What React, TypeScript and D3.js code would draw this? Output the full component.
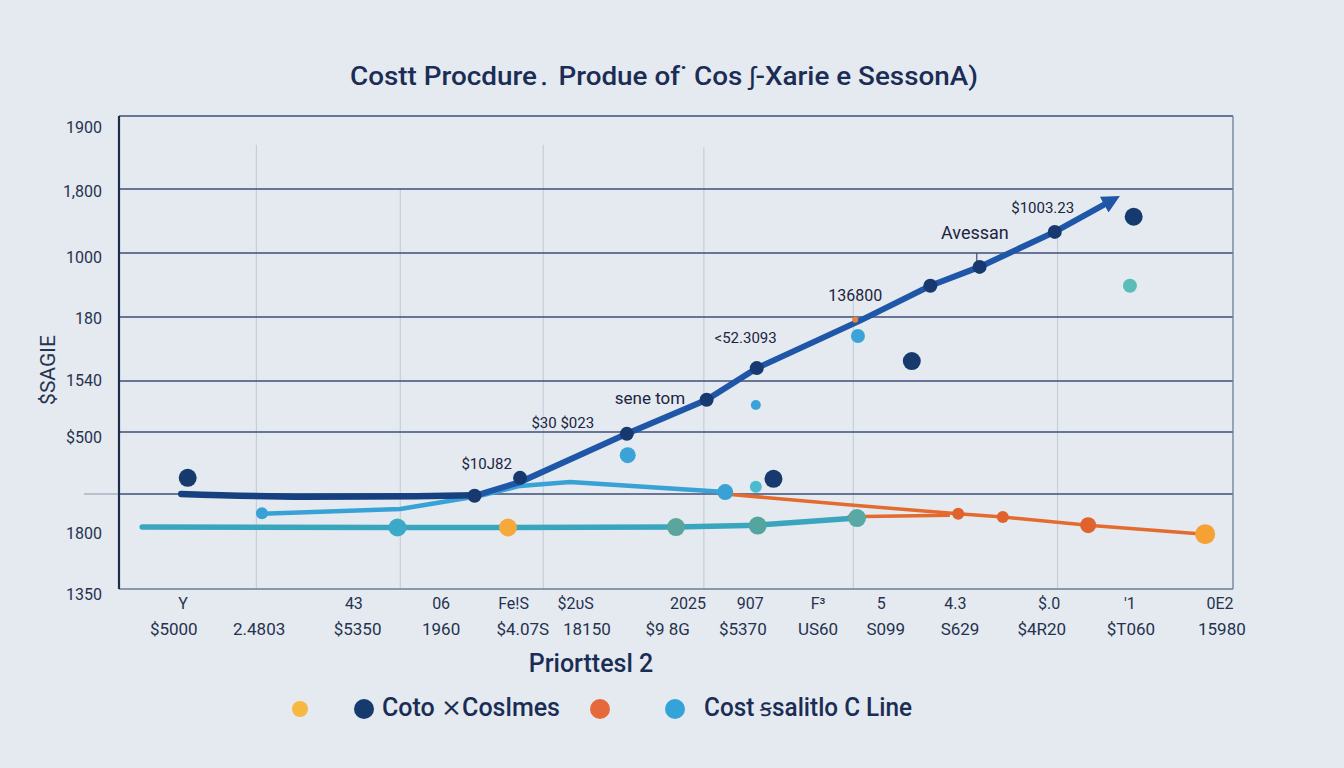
import React from "react";
import * as d3 from "d3";

// ---------- data ----------
const titleText = "Costt Procdure\u2024 Produe of\u02D9 Cos \u0283-Xarie e SessonA)";
const xAxisTitle = "Priorttesl 2";
const yAxisTitle = "$SAGIE";

const yTicks: [number, string][] = [
  [97.5, "1900"], [84.1, "1,800"], [70.2, "1000"], [57.3, "180"],
  [44.0, "1540"], [32.1, "$500"], [11.8, "1800"], [-1.1, "1350"],
];
const hGrid = [100, 84.57, 71.04, 57.51, 43.97, 33.19, 20.08, 0];
const vGrid: [number, number][] = [
  [1.48, 93.9], [3.03, 84.4], [4.57, 93.9], [6.3, 93.4], [7.91, 61.1], [10.11, 75.5],
];

const xRow1: [number, string][] = [
  [0.69, "Y"], [2.53, "43"], [3.47, "06"], [4.25, "Fe!S"], [4.92, "$2\u1D1CS"],
  [6.13, "2025"], [6.8, "907"], [7.53, "F\u00B3"], [8.21, "5"], [9.01, "4.3"],
  [10.02, "$.0"], [10.89, "'1"], [11.86, "0E2"],
];
const xRow2: [number, string][] = [
  [0.59, "$5000"], [1.51, "2.4803"], [2.57, "$5350"], [3.47, "1960"], [4.35, "$4.07S"],
  [5.04, "18150"], [5.91, "$9 8G"], [6.72, "$5370"], [7.53, "US60"], [8.26, "S099"],
  [9.06, "S629"], [9.94, "$4R20"], [10.9, "$T060"], [11.88, "15980"],
];

const baseLine: [number, number][] = [
  [0.67, 20.1], [2.0, 19.5], [3.2, 19.6], [3.83, 19.8],
];
const trendLine: [number, number][] = [
  [3.83, 19.7], [4.32, 22.6], [5.47, 32.8], [6.33, 40.0], [6.87, 46.7],
  [8.0, 56.9], [8.74, 64.1], [9.27, 68.1], [10.08, 75.5], [10.68, 82.0],
];
const trendPoints: [number, number][] = [
  [3.83, 19.7], [4.32, 23.5], [5.47, 32.8], [6.33, 40.0], [6.87, 46.7],
  [8.74, 64.1], [9.27, 68.1], [10.08, 75.5],
];
const lightLine: [number, number][] = [
  [1.54, 15.9], [3.03, 16.9], [3.89, 19.7], [4.32, 21.8], [4.86, 22.6], [6.53, 20.5],
];
const lightPoints: [number, number, number][] = [
  [1.54, 16.0, 6], [6.53, 20.5, 8],
];
const tealLine: [number, number][] = [
  [0.25, 13.1], [3.0, 13.0], [4.19, 13.0], [6.0, 13.1], [6.88, 13.5], [7.95, 15.0],
];
const tealPoints: [number, number, string][] = [
  [3.0, 13.0, "#3da9c9"], [4.19, 13.0, "#f5a93a"], [6.0, 13.1, "#5ba59c"],
  [6.88, 13.4, "#55a59f"], [7.95, 15.0, "#5aa8a3"],
];
const orangeLine: [number, number][] = [
  [6.53, 20.1], [7.85, 17.8], [9.04, 15.9], [9.52, 15.2], [10.44, 13.5], [11.7, 11.6],
];
const orangeLine2: [number, number][] = [
  [7.85, 15.3], [8.95, 15.6],
];
const orangePoints: [number, number, number, string][] = [
  [9.04, 15.9, 6, "#e0622c"], [9.52, 15.2, 6, "#e0622c"],
  [10.44, 13.5, 8, "#e0622c"], [11.7, 11.6, 10, "#f5a133"],
];
const scatterPoints: [number, number, number, string][] = [
  [0.74, 23.5, 9, "#163a6e"], [7.05, 23.3, 9, "#163a6e"], [8.54, 48.2, 9, "#163a6e"],
  [10.93, 78.7, 9, "#163a6e"], [5.48, 28.3, 8, "#3ba3d8"], [6.86, 38.9, 5, "#3ba3d8"],
  [7.96, 53.5, 7, "#3ba3d8"], [6.86, 21.6, 6, "#4bbcd0"], [10.89, 64.1, 7, "#5bbdb6"],
  [7.93, 56.9, 3, "#e8833e"],
];
const annotations: [number, number, string, number][] = [
  [9.95, 80.6, "$1003.23", 15], [9.22, 75.3, "Avessan", 18], [7.93, 62.0, "136800", 16],
  [6.75, 53.1, "<52.3093", 15], [5.72, 40.4, "sene tom", 17], [4.78, 35.1, "$30 $023", 15],
  [3.96, 26.4, "$10J82", 15],
];
const legendItems: [string, string][] = [
  ["#f6b840", ""], ["#163a6e", "Coto \u2A2FCoslmes"], ["#e5693a", ""], ["#33a3d8", "Cost \uA7A9salitlo C Line"],
];

// ---------- chart ----------
const W = 1344, H = 768;
const left = 119, right = 1233, top = 116, bottom = 589;
const font = "Roboto, 'Open Sans', sans-serif";
const navy = "#1b2d55";

export default function App() {
  const x = d3.scaleLinear().domain([0, 12]).range([left, right]);
  const y = d3.scaleLinear().domain([0, 100]).range([bottom, top]);
  const line = d3.line<[number, number]>().x(d => x(d[0])).y(d => y(d[1]));
  const smooth = d3.line<[number, number]>().x(d => x(d[0])).y(d => y(d[1])).curve(d3.curveMonotoneX);

  const legendX = [300, 364, 600, 675];
  const legendTextX = [0, 382, 0, 704];
  const legendTextW = [0, 178, 0, 208];
  const legendR = [8, 10, 10, 10];

  return (
    <svg width={W} height={H} style={{ position: "fixed", left: 0, top: 0, background: "#e4eaf0" }}>
      <defs>
        <marker id="arr" viewBox="0 0 10 10" refX="4" refY="5" markerWidth="3" markerHeight="3" orient="auto">
          <path d="M0,0 L10,5 L0,10 z" fill="#1f56a8" />
        </marker>
      </defs>
      <rect width={W} height={H} fill="#e4eaf0" />

      {/* title */}
      <text x={664} y={85} textAnchor="middle" fontFamily={font} fontWeight={500} fontSize={25}
        fill={navy} textLength={628} lengthAdjust="spacingAndGlyphs">{titleText}</text>

      {/* vertical light grid */}
      {vGrid.map(([vx, vt], i) => (
        <line key={"v" + i} x1={x(vx)} x2={x(vx)} y1={y(vt)} y2={bottom} stroke="#c3cfdc" strokeWidth={1.2} />
      ))}
      {/* horizontal grid */}
      {hGrid.map((g, i) => (
        <line key={"h" + i} x1={left} x2={right} y1={y(g)} y2={y(g)}
          stroke={g === 0 ? "#6d7d96" : "#3e4f78"} strokeWidth={g === 0 ? 1.6 : 1.3} />
      ))}
      <line x1={right} x2={right} y1={top} y2={bottom} stroke="#6d7d96" strokeWidth={1.3} />
      <line x1={84} x2={left} y1={y(20.08)} y2={y(20.08)} stroke="#8a96a8" strokeWidth={1.2} />
      <line x1={left} x2={left} y1={top} y2={bottom} stroke="#1f2d4d" strokeWidth={2.2} />
      <line x1={x(9.24)} x2={x(9.24)} y1={y(71.04)} y2={y(69.2)} stroke="#3e4f78" strokeWidth={1.2} />

      {/* y ticks */}
      {yTicks.map(([v, l], i) => (
        <text key={"yt" + i} x={102} y={y(v)} dy="0.35em" textAnchor="end" fontFamily={font}
          fontSize={16} fill="#26324f">{l}</text>
      ))}
      <text transform={`translate(48,370) rotate(-90)`} textAnchor="middle" dy="0.35em" fontFamily={font}
        fontSize={21} fill="#26324f">{yAxisTitle}</text>

      {/* x tick rows */}
      {xRow1.map(([v, l], i) => (
        <text key={"r1" + i} x={x(v)} y={609} textAnchor="middle" fontFamily={font} fontSize={16} fill="#26324f">{l}</text>
      ))}
      {xRow2.map(([v, l], i) => (
        <text key={"r2" + i} x={x(v)} y={635} textAnchor="middle" fontFamily={font} fontSize={17} fill="#26324f">{l}</text>
      ))}
      <text x={591} y={672} textAnchor="middle" fontFamily={font} fontWeight={500} fontSize={25} fill={navy}>{xAxisTitle}</text>

      {/* lines */}
      <path d={line(tealLine) || ""} fill="none" stroke="#3aa6bd" strokeWidth={5.5} strokeLinecap="round" />
      <path d={line(orangeLine2) || ""} fill="none" stroke="#e56a2e" strokeWidth={3.5} />
      <path d={line(orangeLine) || ""} fill="none" stroke="#e56a2e" strokeWidth={3.5} strokeLinecap="round" />
      <path d={line(lightLine) || ""} fill="none" stroke="#38a2d6" strokeWidth={4.5} strokeLinecap="round" />
      <path d={smooth(baseLine) || ""} fill="none" stroke="#16407f" strokeWidth={6.5} strokeLinecap="round" />
      <path d={line(trendLine) || ""} fill="none" stroke="#1f56a8" strokeWidth={6} markerEnd="url(#arr)" />

      {/* markers */}
      {trendPoints.map(([a, b], i) => (
        <circle key={"tp" + i} cx={x(a)} cy={y(b)} r={7} fill="#18396f" />
      ))}
      {lightPoints.map(([a, b, r], i) => (
        <circle key={"lp" + i} cx={x(a)} cy={y(b)} r={r} fill="#38a2d6" />
      ))}
      {tealPoints.map(([a, b, c], i) => (
        <circle key={"tq" + i} cx={x(a)} cy={y(b)} r={9} fill={c} />
      ))}
      {orangePoints.map(([a, b, r, c], i) => (
        <circle key={"op" + i} cx={x(a)} cy={y(b)} r={r} fill={c} />
      ))}
      {scatterPoints.map(([a, b, r, c], i) => (
        <circle key={"sp" + i} cx={x(a)} cy={y(b)} r={r} fill={c} />
      ))}

      {/* annotations */}
      {annotations.map(([a, b, t, fs], i) => (
        <text key={"an" + i} x={x(a)} y={y(b)} dy="0.35em" textAnchor="middle" fontFamily={font}
          fontSize={fs} fill="#1c2440">{t}</text>
      ))}

      {/* legend */}
      {legendItems.map(([c, t], i) => (
        <g key={"lg" + i}>
          <circle cx={legendX[i]} cy={709} r={legendR[i]} fill={c} />
          {t && (
            <text x={legendTextX[i]} y={716} fontFamily={font} fontWeight={500} fontSize={25} fill={navy}
              textLength={legendTextW[i]} lengthAdjust="spacingAndGlyphs">{t}</text>
          )}
        </g>
      ))}
    </svg>
  );
}
